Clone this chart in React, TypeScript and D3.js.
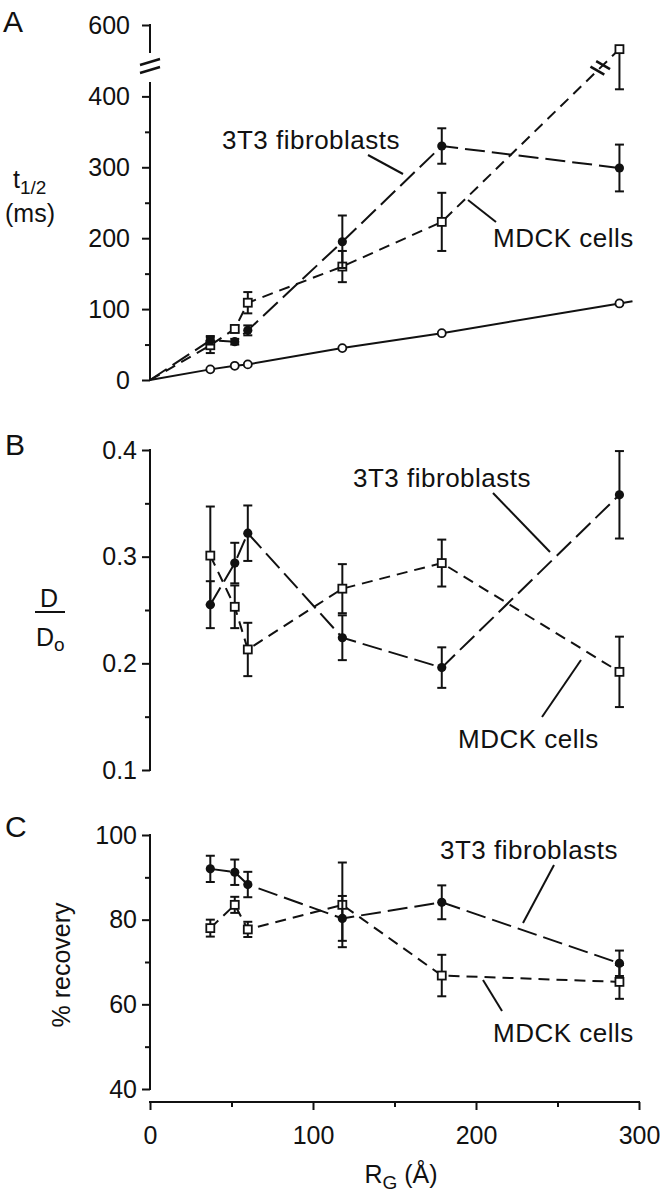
import React, { useEffect, useRef } from "react";
import * as d3 from "d3";

const W = 660;
const H = 1199;

// R_G (Å) of the probes, shared by all three panels
const rg = [37, 52, 60, 118, 179, 288];

// Panel A: t1/2 (ms)
const tHalf3T3 = [56, 54, 70, 195, 330, 299];
const tHalf3T3Err = [6, 4, 7, 37, 25, 33];
const tHalfMDCK = [49, 72, 109, 160, 223, 566];
const tHalfMDCKErr = [11, 5, 15, 22, 41, 156];
const tHalfMDCKErrUp = [11, 5, 15, 22, 41, 0];
const tHalfFree = [15, 20, 22, 45, 66, 108];

// Panel B: D/Do
const dRatio3T3 = [0.255, 0.294, 0.322, 0.224, 0.196, 0.358];
const dRatio3T3Err = [0.022, 0.019, 0.026, 0.021, 0.019, 0.041];
const dRatioMDCK = [0.301, 0.253, 0.213, 0.27, 0.294, 0.192];
const dRatioMDCKErr = [0.046, 0.02, 0.025, 0.023, 0.022, 0.033];

// Panel C: % recovery
const recovery3T3 = [92.0, 91.2, 88.3, 80.3, 84.1, 69.7];
const recovery3T3Err = [3.1, 3, 3, 5.3, 4, 3];
const recoveryMDCK = [78.0, 83.5, 77.7, 83.5, 66.8, 65.3];
const recoveryMDCKErr = [2, 1.9, 1.8, 10, 4.9, 4];

// ticks
const xTicks = [0, 100, 200, 300];
const xMinor = [50, 150, 250];
const aTicks = [0, 100, 200, 300, 400, 600];
const aMinor = [50, 150, 250, 350];
const bTicks = [0.1, 0.2, 0.3, 0.4];
const bMinor = [0.15, 0.25, 0.35];
const cTicks = [40, 60, 80, 100];
const cMinor = [50, 70, 90];

const FONT = "'Liberation Sans', Arial, Helvetica, sans-serif";
const DASH_3T3 = "20,7";
const DASH_MDCK = "11,7";

export default function App() {
  const svgRef = useRef<SVGSVGElement>(null);

  useEffect(() => {
    document.body.style.margin = "0";
    if (!svgRef.current) return;
    const svg = d3.select(svgRef.current);
    svg.selectAll("*").remove();

    const x = d3.scaleLinear().domain([0, 300]).range([150, 639]);
    const ax = x(0);
    // broken axis: 420..560 squeezed into the gap
    const yA = d3
      .scaleLinear()
      .domain([0, 420, 560, 600])
      .range([380, 82.2, 53.4, 25]);
    const yB = d3.scaleLinear().domain([0.1, 0.4]).range([770, 450]);
    const yC = d3.scaleLinear().domain([40, 100]).range([1089, 835]);

    const text = (
      tx: number,
      ty: number,
      s: string,
      size = 25,
      anchor = "start"
    ) =>
      svg
        .append("text")
        .attr("x", tx)
        .attr("y", ty)
        .attr("font-family", FONT)
        .attr("font-size", size)
        .attr("text-anchor", anchor)
        .attr("fill", "#111")
        .text(s);

    const line = (x1: number, y1: number, x2: number, y2: number, w = 2) =>
      svg
        .append("line")
        .attr("x1", x1)
        .attr("y1", y1)
        .attr("x2", x2)
        .attr("y2", y2)
        .attr("stroke", "#111")
        .attr("stroke-width", w);

    // y axis helper
    function yAxis(
      scale: d3.ScaleLinear<number, number>,
      major: number[],
      minor: number[],
      fmt: (d: number) => string,
      pad: number,
      segments: [number, number][]
    ) {
      const g = svg.append("g").attr("transform", `translate(${ax},0)`);
      g.call(
        d3
          .axisLeft(scale)
          .tickValues(major)
          .tickSize(8)
          .tickPadding(pad)
          .tickFormat((d) => fmt(Number(d)))
      );
      g.select(".domain").remove();
      g.selectAll(".tick line").attr("stroke", "#111").attr("stroke-width", 2);
      g.selectAll(".tick text")
        .attr("font-family", FONT)
        .attr("font-size", 25)
        .attr("fill", "#111");
      const gm = svg.append("g").attr("transform", `translate(${ax},0)`);
      gm.call(d3.axisLeft(scale).tickValues(minor).tickSize(5).tickFormat(() => ""));
      gm.select(".domain").remove();
      gm.selectAll(".tick line").attr("stroke", "#111").attr("stroke-width", 2);
      segments.forEach(([a, b]) =>
        line(ax, scale(a), ax, scale(b)).attr("stroke-linecap", "square")
      );
    }

    function series(
      scale: (v: number) => number,
      ys: number[],
      err: number[],
      errUp: number[],
      dash: string | null,
      marker: "filled" | "square" | "open",
      fromOrigin: boolean
    ) {
      const pts: [number, number][] = rg.map((r, i) => [x(r), scale(ys[i])]);
      const path = fromOrigin ? [[x(0), scale(0)] as [number, number], ...pts] : pts;
      const p = svg
        .append("path")
        .attr("d", d3.line()(path))
        .attr("fill", "none")
        .attr("stroke", "#111")
        .attr("stroke-width", 2);
      if (dash) p.attr("stroke-dasharray", dash);

      // error bars
      rg.forEach((r, i) => {
        const cx = x(r);
        const lo = scale(ys[i] - err[i]);
        const hi = scale(ys[i] + errUp[i]);
        if (err[i] > 0) {
          line(cx, scale(ys[i]), cx, lo);
          line(cx - 4.5, lo, cx + 4.5, lo);
        }
        if (errUp[i] > 0) {
          line(cx, scale(ys[i]), cx, hi);
          line(cx - 4.5, hi, cx + 4.5, hi);
        }
      });

      pts.forEach(([px, py]) => {
        if (marker === "filled") {
          svg.append("circle").attr("cx", px).attr("cy", py).attr("r", 4.6).attr("fill", "#111");
        } else if (marker === "open") {
          svg
            .append("circle")
            .attr("cx", px)
            .attr("cy", py)
            .attr("r", 4)
            .attr("fill", "#fff")
            .attr("stroke", "#111")
            .attr("stroke-width", 1.8);
        } else {
          svg
            .append("rect")
            .attr("x", px - 4)
            .attr("y", py - 4)
            .attr("width", 8)
            .attr("height", 8)
            .attr("fill", "#fff")
            .attr("stroke", "#111")
            .attr("stroke-width", 1.8);
        }
      });
    }

    // ---------- Panel A ----------
    yAxis(yA, aTicks, aMinor, (d) => String(d), 12, [
      [0, 419],
      [562, 600],
    ]);
    // axis break marks
    [62, 70].forEach((by) => line(ax - 10, by + 3, ax + 10, by - 3, 2.4));

    // free-solution line extends a little past the last point
    const lastI = rg.length - 1;
    const slope = (tHalfFree[lastI] - tHalfFree[lastI - 1]) / (rg[lastI] - rg[lastI - 1]);
    const extendTo = 296;
    svg
      .append("path")
      .attr(
        "d",
        d3.line()([
          [x(rg[lastI]), yA(tHalfFree[lastI])],
          [x(extendTo), yA(tHalfFree[lastI] + slope * (extendTo - rg[lastI]))],
        ])
      )
      .attr("stroke", "#111")
      .attr("stroke-width", 2);
    series(yA, tHalfFree, rg.map(() => 0), rg.map(() => 0), null, "open", true);
    series(yA, tHalfMDCK, tHalfMDCKErr, tHalfMDCKErrUp, DASH_MDCK, "square", true);
    series(yA, tHalf3T3, tHalf3T3Err, tHalf3T3Err, DASH_3T3, "filled", true);

    // break marks across the MDCK line
    {
      const p0: [number, number] = [x(rg[4]), yA(tHalfMDCK[4])];
      const p1: [number, number] = [x(rg[5]), yA(tHalfMDCK[5])];
      const by = yA(490);
      const t = (by - p0[1]) / (p1[1] - p0[1]);
      const bx = p0[0] + t * (p1[0] - p0[0]);
      const len = Math.hypot(p1[0] - p0[0], p1[1] - p0[1]);
      const ux = (p1[0] - p0[0]) / len;
      const uy = (p1[1] - p0[1]) / len;
      const a = (30 * Math.PI) / 180;
      const mx = Math.cos(a);
      const my = Math.sin(a);
      [-4, 4].forEach((o) => {
        const cx = bx + ux * o;
        const cy = by + uy * o;
        line(cx - mx * 8, cy - my * 8, cx + mx * 8, cy + my * 8, 2.6);
      });
    }

    text(3, 32, "A", 30);
    const t12 = text(13, 188, "t", 25);
    t12.append("tspan").attr("dy", 6).attr("font-size", 19).text("1/2");
    text(5, 222, "(ms)", 25);

    text(222, 149, "3T3 fibroblasts", 26).attr("letter-spacing", 0.5);
    line(368, 155, 403, 174);
    text(493, 247, "MDCK cells", 26).attr("letter-spacing", 0.5);
    line(468, 200, 496, 222);

    // ---------- Panel B ----------
    yAxis(yB, bTicks, bMinor, (d) => d.toFixed(1), 5, [[0.1, 0.4]]);
    series(yB, dRatioMDCK, dRatioMDCKErr, dRatioMDCKErr, DASH_MDCK, "square", false);
    series(yB, dRatio3T3, dRatio3T3Err, dRatio3T3Err, DASH_3T3, "filled", false);

    text(5, 455, "B", 30);
    text(40, 607, "D", 25);
    line(35, 612, 65, 612);
    const dO = text(36, 646, "D", 25);
    dO.append("tspan").attr("dy", 5).attr("font-size", 19).text("o");

    text(353, 487, "3T3 fibroblasts", 26).attr("letter-spacing", 0.5);
    line(493, 493, 550, 552);
    text(458, 748, "MDCK cells", 26).attr("letter-spacing", 0.5);
    line(581, 660, 542, 717);

    // ---------- Panel C ----------
    yAxis(yC, cTicks, cMinor, (d) => String(d), 5, [[40, 100]]);
    series(yC, recoveryMDCK, recoveryMDCKErr, recoveryMDCKErr, DASH_MDCK, "square", false);
    series(yC, recovery3T3, recovery3T3Err, recovery3T3Err, DASH_3T3, "filled", false);

    text(5, 837, "C", 30);
    text(0, 0, "% recovery", 25, "middle").attr(
      "transform",
      "translate(70,965) rotate(-90)"
    );

    text(440, 859, "3T3 fibroblasts", 26).attr("letter-spacing", 0.5);
    line(554, 865, 523, 923);
    text(493, 1042, "MDCK cells", 26).attr("letter-spacing", 0.5);
    line(483, 980, 502, 1011);

    // ---------- x axis ----------
    const axisY = 1102;
    const gx = svg.append("g").attr("transform", `translate(0,${axisY})`);
    gx.call(d3.axisBottom(x).tickValues(xTicks).tickSize(8).tickPadding(16));
    gx.select(".domain").remove();
    gx.selectAll(".tick line").attr("stroke", "#111").attr("stroke-width", 2);
    gx.selectAll(".tick text")
      .attr("font-family", FONT)
      .attr("font-size", 25)
      .attr("fill", "#111");
    const gxm = svg.append("g").attr("transform", `translate(0,${axisY})`);
    gxm.call(d3.axisBottom(x).tickValues(xMinor).tickSize(5).tickFormat(() => ""));
    gxm.select(".domain").remove();
    gxm.selectAll(".tick line").attr("stroke", "#111").attr("stroke-width", 2);
    line(x(0), axisY, x(300), axisY).attr("stroke-linecap", "square");

    const xt = text(401, 1183, "R", 25, "middle");
    xt.append("tspan").attr("dy", 6).attr("font-size", 19).text("G");
    xt.append("tspan").attr("dy", -6).attr("font-size", 25).text(" (Å)");
  }, []);

  return (
    <svg
      ref={svgRef}
      width={W}
      height={H}
      viewBox={`0 0 ${W} ${H}`}
      style={{ display: "block", background: "#fff" }}
    />
  );
}
